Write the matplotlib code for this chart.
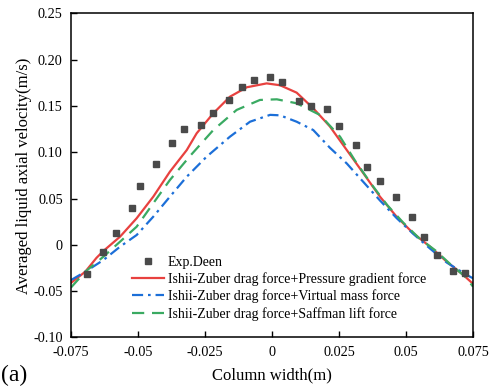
import matplotlib
matplotlib.use('Agg')
import matplotlib.pyplot as plt

# experimental data (Deen)
exp_x = [-0.0689, -0.0629, -0.0583, -0.0522, -0.0493, -0.0433, -0.0372, -0.0327,
         -0.0266, -0.0219, -0.0159, -0.0113, -0.0068, -0.0007, 0.0037, 0.0100,
         0.0144, 0.0206, 0.0250, 0.0312, 0.0356, 0.0403, 0.0463, 0.0524,
         0.0568, 0.0615, 0.0677, 0.0721]
exp_y = [-0.0317, -0.0080, 0.0126, 0.0402, 0.0640, 0.0874, 0.1098, 0.1252,
         0.1296, 0.1428, 0.1566, 0.1709, 0.1782, 0.1817, 0.1757, 0.1558,
         0.1501, 0.1468, 0.1288, 0.1080, 0.0845, 0.0691, 0.0521, 0.0302,
         0.0082, -0.0106, -0.0278, -0.0307]

# Ishii-Zuber + pressure gradient
pg_x = [-0.075, -0.0697, -0.0655, -0.0629, -0.0567, -0.0505, -0.0443, -0.0381,
        -0.0318, -0.0281, -0.0219, -0.0157, -0.0094, -0.0020, 0.0030, 0.0092,
        0.0154, 0.0216, 0.0279, 0.0341, 0.0403, 0.0465, 0.0527, 0.0590,
        0.0652, 0.0714, 0.075]
pg_y = [-0.041, -0.029, -0.014, -0.0065, 0.0089, 0.0288, 0.0521, 0.0791,
        0.1025, 0.1206, 0.1422, 0.1601, 0.1703, 0.1745, 0.1725, 0.1645,
        0.1476, 0.1280, 0.1025, 0.0774, 0.0521, 0.0305, 0.0126, -0.0019,
        -0.0181, -0.0325, -0.042]

# Ishii-Zuber + virtual mass
vm_x = [-0.075, -0.0697, -0.0629, -0.0567, -0.0505, -0.0443, -0.0381, -0.0318,
        -0.0244, -0.0157, -0.0082, -0.0007, 0.0030, 0.0092, 0.0154, 0.0216,
        0.0279, 0.0341, 0.0403, 0.0465, 0.0527, 0.0590, 0.0652, 0.0727, 0.075]
vm_y = [-0.038, -0.029, -0.0163, -0.0019, 0.0107, 0.0305, 0.0521, 0.0737,
        0.0953, 0.1169, 0.1331, 0.1405, 0.1400, 0.1331, 0.1241, 0.1050,
        0.0880, 0.0680, 0.0480, 0.0290, 0.0120, -0.0040, -0.0190, -0.0325,
        -0.036]

# Ishii-Zuber + Saffman lift
sl_x = [-0.075, -0.0697, -0.0629, -0.0567, -0.0505, -0.0443, -0.0381, -0.0306,
        -0.0219, -0.0132, -0.0045, 0.0018, 0.0092, 0.0179, 0.0254, 0.0310,
        0.0370, 0.0430, 0.0490, 0.0550, 0.0610, 0.0670, 0.0720, 0.075]
sl_y = [-0.046, -0.029, -0.0127, 0.0035, 0.0197, 0.0450, 0.0701, 0.0960,
        0.1241, 0.1458, 0.1566, 0.1573, 0.1530, 0.1404, 0.1169, 0.0910,
        0.0660, 0.0430, 0.0240, 0.0070, -0.0060, -0.0220, -0.0340, -0.045]

xticks = [-0.075, -0.05, -0.025, 0, 0.025, 0.05, 0.075]
xlabels = ['-0.075', '-0.05', '-0.025', '0', '0.025', '0.05', '0.075']
yticks = [-0.10, -0.05, 0, 0.05, 0.10, 0.15, 0.20, 0.25]
ylabels = ['-0.10', '-0.05', '0', '0.05', '0.10', '0.15', '0.20', '0.25']

plt.rcParams['font.family'] = ['Liberation Serif', 'DejaVu Serif']

fig = plt.figure(figsize=(4.91, 3.89), dpi=100)
ax = fig.add_axes([0.1446, 0.1324, 0.8187, 0.8329])

ax.plot(exp_x, exp_y, 's', color='#4a4a4a', markersize=4.3, label='Exp.Deen', zorder=5)
ax.plot(pg_x, pg_y, '-', color='#e8413f', lw=1.6,
        label='Ishii-Zuber drag force+Pressure gradient force')
ax.plot(vm_x, vm_y, color='#1c6fd8', lw=1.6, dashes=(5, 2.2, 1.2, 2.2),
        label='Ishii-Zuber drag force+Virtual mass force')
ax.plot(sl_x, sl_y, color='#3aaa62', lw=1.6, dashes=(5.5, 3.5),
        label='Ishii-Zuber drag force+Saffman lift force')

ax.set_xlim(-0.075, 0.075)
ax.set_ylim(-0.10, 0.25)
ax.set_xticks(xticks)
ax.set_xticklabels(xlabels)
ax.set_yticks(yticks)
ax.set_yticklabels(ylabels)
ax.tick_params(direction='in', length=4.5, width=1, labelsize=10.3, pad=6)
for s in ax.spines.values():
    s.set_linewidth(1.1)

ax.set_xlabel('Column width(m)', fontsize=12, labelpad=6)
ax.set_ylabel('Averaged liquid axial velocity(m/s)', fontsize=12, labelpad=1)

ax.legend(loc='lower left', bbox_to_anchor=(0.138, 0.035), frameon=False,
          fontsize=10, handlelength=2.33, handletextpad=0.24, labelspacing=0.25,
          borderaxespad=0)

fig.text(0.003, 0.02, '(a)', fontsize=17)

fig.savefig('out.png', dpi=100)
